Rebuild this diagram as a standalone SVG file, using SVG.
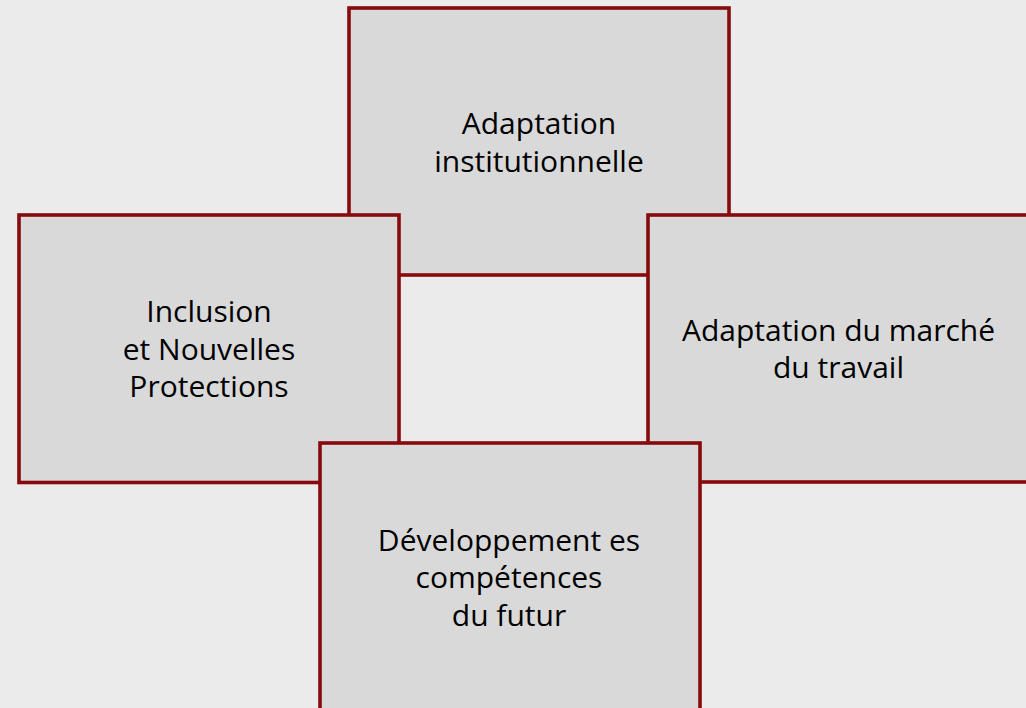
<svg xmlns="http://www.w3.org/2000/svg" width="1026" height="708" viewBox="0 0 1026 708">
<style>
.box{fill:#d9d9d9;stroke:#870b0e;stroke-width:3.6}
.t{font-family:"Open Sans","Noto Sans",sans-serif;font-size:30px;fill:#000;text-anchor:middle}
</style>
<rect width="1026" height="708" fill="#ebebeb"/>
<g id="connectors"/>
<g id="node-top">
<rect class="box" x="349" y="8" width="380" height="267"/>
<text class="t"><tspan x="539" y="134">Adaptation</tspan><tspan x="539" y="171.5">institutionnelle</tspan></text>
</g>
<g id="node-left">
<rect class="box" x="19" y="215" width="380" height="267.5"/>
<text class="t"><tspan x="209" y="322">Inclusion</tspan><tspan x="209" y="359.5">et Nouvelles</tspan><tspan x="209" y="397">Protections</tspan></text>
</g>
<g id="node-right">
<rect class="box" x="648" y="215" width="381" height="267"/>
<text class="t"><tspan x="838.5" y="341">Adaptation du marché</tspan><tspan x="838.5" y="378">du travail</tspan></text>
</g>
<g id="node-bottom">
<rect class="box" x="320" y="443" width="380" height="268"/>
<text class="t"><tspan x="509" y="550.5">Développement es</tspan><tspan x="509" y="588">compétences</tspan><tspan x="509" y="625.5">du futur</tspan></text>
</g>
</svg>
